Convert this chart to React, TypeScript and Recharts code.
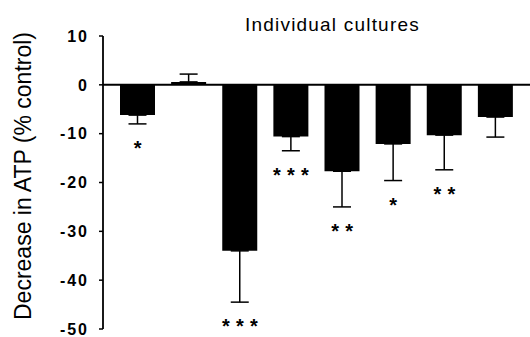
import { Bar, ComposedChart, ErrorBar, ReferenceLine, Scatter, XAxis, YAxis } from "recharts"

const cultures = ["1", "2", "3", "4", "5", "6", "7", "8"]
const decrease = [-6.2, 0.6, -34, -10.6, -17.7, -12.1, -10.3, -6.6]
const sem = [1.8, 1.6, 10.5, 2.9, 7.3, 7.5, 7.1, 4.1]
const stars = ["*", "", "***", "***", "**", "*", "**", ""]
const yTicks = [10, 0, -10, -20, -30, -40, -50]

const data = cultures.map((name, i) => ({
  name,
  value: decrease[i],
  // one-sided error bar: away from zero only
  err: decrease[i] < 0 ? [sem[i], 0] : [0, sem[i]],
  errEnd: decrease[i] < 0 ? decrease[i] - sem[i] : null,
  stars: stars[i],
}))

const font = "'Liberation Sans', Arial, Helvetica, sans-serif"

const StarMark = (props: any) => {
  const { cx, cy, payload } = props
  if (!payload.stars) return <g />
  const n = payload.stars.length
  return (
    <g>
      {Array.from({ length: n }).map((_, k) => (
        <text
          key={k}
          x={cx + (k - (n - 1) / 2) * 14}
          y={cy + 31}
          textAnchor="middle"
          fontSize={20}
          fontWeight={700}
          fontFamily={font}
          fill="#000"
        >
          *
        </text>
      ))}
    </g>
  )
}

const AxisTitle = () => (
  <text
    transform="translate(23, 176) rotate(-90)"
    textAnchor="middle"
    dominantBaseline="central"
    fontSize={23}
    fontFamily={font}
    fill="#000"
  >
    Decrease in ATP (% control)
  </text>
)

export default function App() {
  return (
    <div style={{ position: "absolute", left: 0, top: 0, width: 530, height: 337, background: "#fff", overflow: "hidden" }}>
      <div
        style={{
          position: "absolute",
          left: 245,
          top: 14,
          fontFamily: font,
          fontSize: 19,
          letterSpacing: 1.2,
          color: "#000",
          whiteSpace: "nowrap",
        }}
      >
        Individual cultures
      </div>
      <ComposedChart
        width={530}
        height={337}
        data={data}
        margin={{ top: 36, right: 0, bottom: 8, left: 3 }}
        barCategoryGap={16}
      >
        <XAxis dataKey="name" hide padding={{ left: 9, right: 9 }} />
        <XAxis xAxisId="full" dataKey="name" hide />
        <YAxis
          width={100}
          domain={[-50, 10]}
          ticks={yTicks}
          interval={0}
          tickSize={4}
          tickMargin={10}
          axisLine={{ stroke: "#000", strokeWidth: 1.8 }}
          tickLine={{ stroke: "#000", strokeWidth: 1.5 }}
          tick={{ fill: "#000", fontSize: 16, fontWeight: 700, fontFamily: font, letterSpacing: 2 }}
          label={{ content: () => <AxisTitle /> }}
        />
        <ReferenceLine y={0} xAxisId="full" stroke="#000" strokeWidth={2} />
        <Bar dataKey="value" fill="#000" barSize={35} isAnimationActive={false}>
          <ErrorBar dataKey="err" width={9} stroke="#000" strokeWidth={1.5} direction="y" />
        </Bar>
        <Scatter dataKey="errEnd" shape={StarMark} isAnimationActive={false} />
      </ComposedChart>
    </div>
  )
}
